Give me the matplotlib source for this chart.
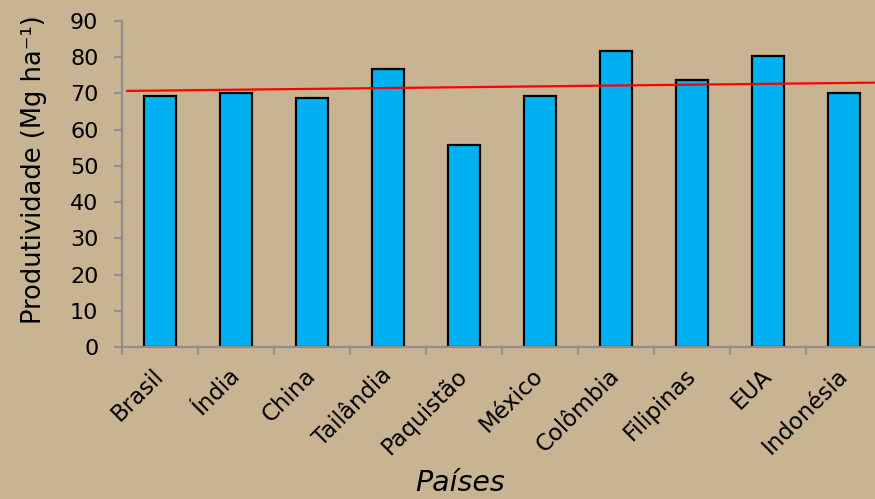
import numpy as np
import matplotlib
matplotlib.use("Agg")
import matplotlib.pyplot as plt

# Produtividade por país
paises = ["Brasil", "Índia", "China", "Tailândia", "Paquistão",
          "México", "Colômbia", "Filipinas", "EUA", "Indonésia"]
produtividade = [69.4, 70.1, 68.8, 76.7, 55.9, 69.4, 81.7, 73.8, 80.2, 70.1]

# linha de referência (início e fim)
linha_x = [-0.43, 9.5]
linha_y = [70.7, 73.0]

fundo = "#C8B493"
cinza = "#8E8E8E"
plt.rcParams["font.family"] = ["DejaVu Sans"]

fig = plt.figure(figsize=(8.75, 4.99), dpi=100, facecolor=fundo)
ax = fig.add_axes([122 / 875, 152 / 499, 760 / 875, 326 / 499])
ax.set_facecolor(fundo)

x = np.arange(len(paises))
ax.bar(x, produtividade, width=0.41, color="#00B0F0",
       edgecolor="black", linewidth=1.6, zorder=2)
ax.plot(linha_x, linha_y, color="#FF0000", linewidth=1.6, zorder=3,
        clip_on=False)

ax.set_xlim(-0.5, len(paises) - 0.5)
ax.set_ylim(0, 90)
ax.set_yticks(np.arange(0, 91, 10))
ax.tick_params(axis="y", direction="out", length=6, width=1.5,
               color=cinza, labelsize=16, pad=11)

# traços entre as categorias, rótulos no centro
ax.set_xticks(np.arange(-0.5, len(paises), 1.0))
ax.set_xticklabels([])
ax.tick_params(axis="x", which="major", direction="out", length=6,
               width=1.5, color=cinza)
ax.set_xticks(x, minor=True)
ax.set_xticklabels(paises, minor=True, rotation=45, ha="right",
                   va="center", rotation_mode="anchor", fontsize=16.5)
ax.tick_params(axis="x", which="minor", length=0, pad=18)

for s in ["top", "right"]:
    ax.spines[s].set_visible(False)
for s in ["left", "bottom"]:
    ax.spines[s].set_color(cinza)
    ax.spines[s].set_linewidth(1.6)

ax.set_ylabel("Produtividade (Mg ha⁻¹)", fontsize=18.5)
ax.yaxis.set_label_coords(-0.099, 0.543)
fig.text(460 / 875, 1 - 483 / 499, "Países", fontsize=20.5, style="italic",
         ha="center", va="center")

fig.savefig("out.png", dpi=100, facecolor=fundo)
